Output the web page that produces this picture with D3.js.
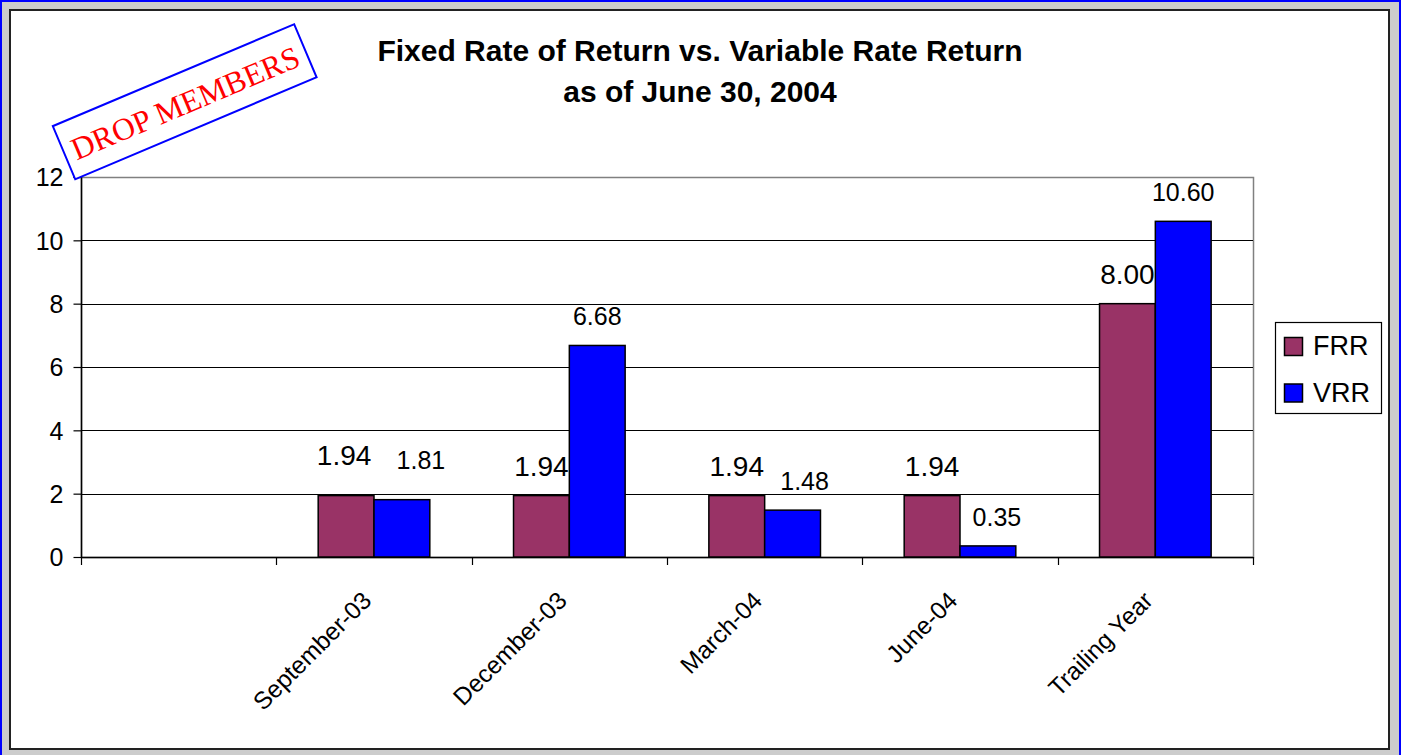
<!DOCTYPE html>
<html>
<head>
<meta charset="utf-8">
<script src="https://cdn.jsdelivr.net/npm/d3@7"></script>
<style>
  html, body { margin: 0; padding: 0; background: #cccccc; }
  svg { display: block; }
</style>
</head>
<body>
<svg id="chart" width="1401" height="755"></svg>
<script>
// ---- data ----
const categories = ["", "September-03", "December-03", "March-04", "June-04", "Trailing Year"];
const seriesNames = ["FRR", "VRR"];
const frrValues = [null, 1.94, 1.94, 1.94, 1.94, 8.00];
const vrrValues = [null, 1.81, 6.68, 1.48, 0.35, 10.60];
const yTicks = [0, 2, 4, 6, 8, 10, 12];
const titleLines = ["Fixed Rate of Return vs. Variable Rate Return", "as of June 30, 2004"];
const stampText = "DROP MEMBERS";

// ---- styling ----
const colors = { FRR: "#993366", VRR: "#0000FF" };
const labelSize = { FRR: 28, VRR: 25 };
// small hand placement offsets for data labels [dx, dy]
const labelNudge = {
  FRR: { "September-03": [-2, -11] },
  VRR: { "September-03": [19, -11], "March-04": [12, 0], "June-04": [9, 0] }
};
const sans = "'Liberation Sans', Arial, Helvetica, sans-serif";

const svg = d3.select("#chart");
const W = 1401, H = 755;

// frame
svg.append("rect").attr("x", 0).attr("y", 0).attr("width", W).attr("height", H).attr("fill", "#cccccc");
svg.append("line").attr("x1", 0).attr("y1", 1).attr("x2", W).attr("y2", 1).attr("stroke", "#0000ff").attr("stroke-width", 2);
svg.append("line").attr("x1", 1).attr("y1", 0).attr("x2", 1).attr("y2", H).attr("stroke", "#0000ff").attr("stroke-width", 2);
svg.append("line").attr("x1", W - 1).attr("y1", 0).attr("x2", W - 1).attr("y2", H).attr("stroke", "#0000ff").attr("stroke-width", 2);
svg.append("rect").attr("x", 10).attr("y", 10).attr("width", 1379).attr("height", 739)
  .attr("fill", "#ffffff").attr("stroke", "#222222").attr("stroke-width", 2);

// plot area
const plot = { left: 81, right: 1253, top: 177, bottom: 557 };
const x0 = d3.scaleBand().domain(categories).range([plot.left, plot.right]).padding(0);
const x1 = d3.scaleBand().domain(seriesNames).range([0, x0.bandwidth()]).paddingInner(0).paddingOuter(0.75);
const y = d3.scaleLinear().domain([0, 12]).range([plot.bottom, plot.top]);

// plot border (gray)
svg.append("rect").attr("x", plot.left + 0.5).attr("y", plot.top + 0.5)
  .attr("width", plot.right - plot.left).attr("height", plot.bottom - plot.top)
  .attr("fill", "none").attr("stroke", "#808080").attr("stroke-width", 1.5);

// gridlines
svg.append("g").selectAll("line").data(yTicks.filter(t => t > 0 && t < 12)).join("line")
  .attr("x1", plot.left).attr("x2", plot.right)
  .attr("y1", d => Math.round(y(d)) + 0.5).attr("y2", d => Math.round(y(d)) + 0.5)
  .attr("stroke", "#000000").attr("stroke-width", 1);

// y axis
const yAxis = d3.axisLeft(y).tickValues(yTicks).tickSize(8).tickPadding(10).tickFormat(d3.format("d"));
const yg = svg.append("g").attr("transform", `translate(${plot.left + 0.5},0)`).call(yAxis);
yg.select(".domain").attr("stroke", "#000").attr("stroke-width", 1.5).attr("d", `M-8,${plot.top}H0V${plot.bottom}`);
yg.selectAll(".tick line").attr("stroke", "#000").attr("stroke-width", 1.2);
yg.selectAll(".tick text").attr("font-family", sans).attr("font-size", 25).attr("fill", "#000").attr("dy", "0.35em");

// x axis (ticks at category boundaries)
const boundaries = categories.map(c => x0(c)).concat([plot.right]);
const xg = svg.append("g");
xg.append("line").attr("x1", plot.left).attr("x2", plot.right)
  .attr("y1", plot.bottom + 0.5).attr("y2", plot.bottom + 0.5).attr("stroke", "#000").attr("stroke-width", 1.5);
xg.selectAll("line.tk").data(boundaries).join("line").attr("class", "tk")
  .attr("x1", d => Math.round(d) + 0.5).attr("x2", d => Math.round(d) + 0.5)
  .attr("y1", plot.bottom).attr("y2", plot.bottom + 8).attr("stroke", "#000").attr("stroke-width", 1.2);
xg.selectAll("text").data(categories.filter(c => c !== "")).join("text")
  .attr("transform", d => `translate(${x0(d) + x0.bandwidth() / 2 - 1},${plot.bottom + 45}) rotate(-45)`)
  .attr("text-anchor", "end")
  .attr("font-family", sans).attr("font-size", 24.5).attr("fill", "#000")
  .text(d => d);

// bars
const rows = categories.map((c, i) => ({ cat: c, FRR: frrValues[i], VRR: vrrValues[i] }));
const groups = svg.append("g").selectAll("g").data(rows).join("g")
  .attr("transform", d => `translate(${x0(d.cat)},0)`);
const items = d => seriesNames.filter(s => d[s] != null).map(s => ({ s, v: d[s], cat: d.cat }));
groups.selectAll("rect").data(items).join("rect")
  .attr("x", d => x1(d.s)).attr("width", x1.bandwidth())
  .attr("y", d => y(d.v)).attr("height", d => y(0) - y(d.v))
  .attr("fill", d => colors[d.s]).attr("stroke", "#000").attr("stroke-width", 1.5);
groups.selectAll("text").data(items).join("text")
  .attr("x", d => x1(d.s) + x1.bandwidth() / 2 + ((labelNudge[d.s][d.cat] || [0, 0])[0]))
  .attr("y", d => y(d.v) - 20 + ((labelNudge[d.s][d.cat] || [0, 0])[1]))
  .attr("text-anchor", "middle")
  .attr("font-family", sans).attr("font-size", d => labelSize[d.s]).attr("fill", "#000")
  .text(d => d3.format(".2f")(d.v));

// title
svg.append("g").selectAll("text").data(titleLines).join("text")
  .attr("x", 700).attr("y", (d, i) => 61 + i * 41)
  .attr("text-anchor", "middle")
  .attr("font-family", sans).attr("font-weight", "bold").attr("font-size", 30).attr("fill", "#000")
  .text(d => d);

// legend
const lg = svg.append("g");
lg.append("rect").attr("x", 1275.5).attr("y", 322.5).attr("width", 106).attr("height", 91)
  .attr("fill", "#fff").attr("stroke", "#000").attr("stroke-width", 1.2);
const li = lg.selectAll("g").data(seriesNames).join("g")
  .attr("transform", (d, i) => `translate(0,${i * 46.5})`);
li.append("rect").attr("x", 1284.5).attr("y", 337.5).attr("width", 18).attr("height", 18)
  .attr("fill", d => colors[d]).attr("stroke", "#000").attr("stroke-width", 1.5);
li.append("text").attr("x", 1313).attr("y", 355)
  .attr("font-family", sans).attr("font-size", 27).attr("fill", "#000").text(d => d);

// stamp
const stamp = svg.append("g").attr("transform", "translate(184.7,101.7) rotate(-22.9)");
stamp.append("rect").attr("x", -131).attr("y", -28.8).attr("width", 262).attr("height", 57.6)
  .attr("fill", "#fff").attr("stroke", "#0000ff").attr("stroke-width", 2);
stamp.append("text").attr("x", 0).attr("y", 12)
  .attr("text-anchor", "middle")
  .attr("font-family", "'Liberation Serif', 'Times New Roman', serif").attr("font-size", 31.5).attr("fill", "#ff0000")
  .text(stampText);
</script>
</body>
</html>
